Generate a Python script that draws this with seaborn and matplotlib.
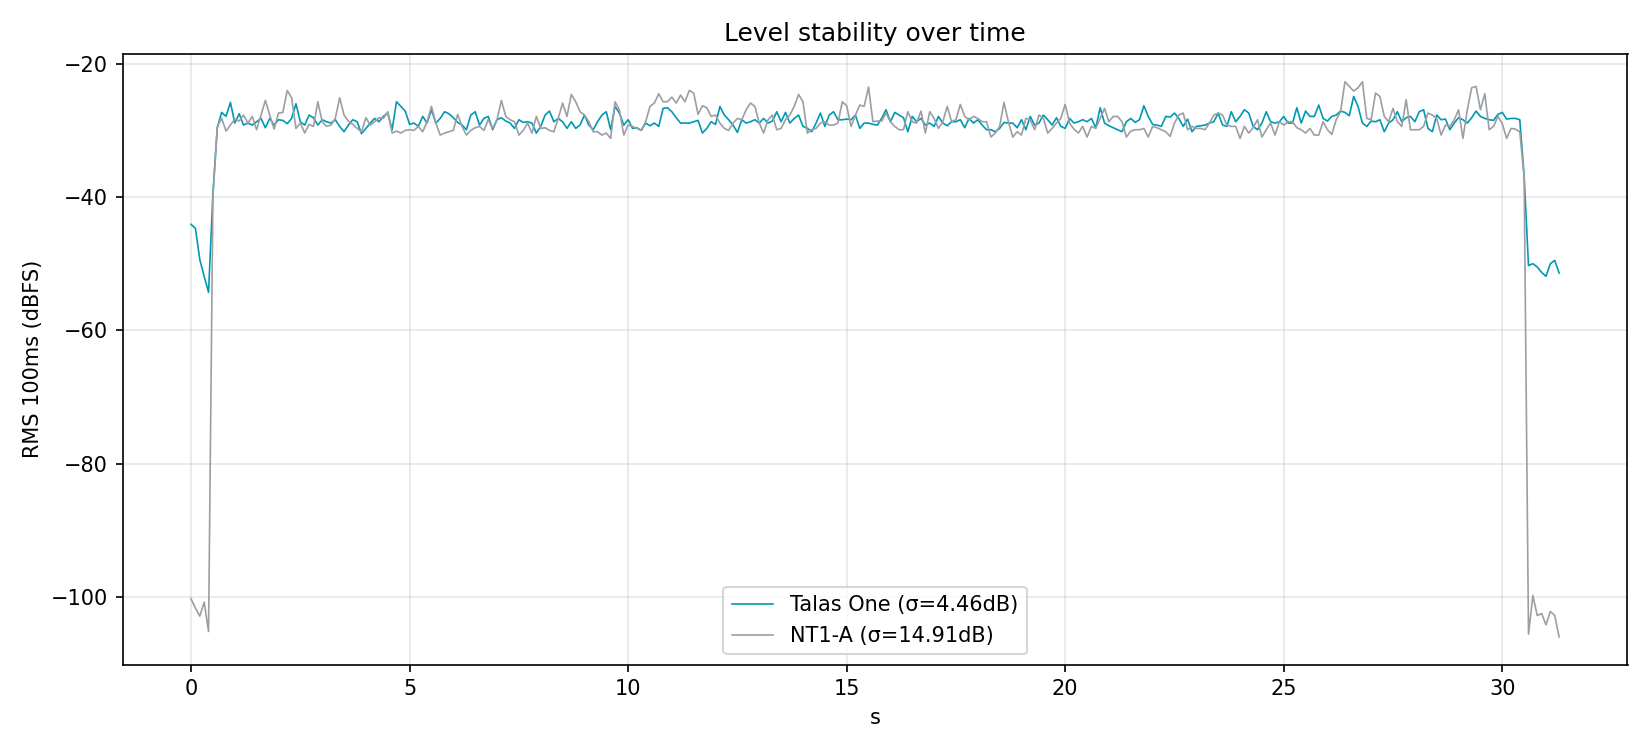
import numpy as np
import pandas as pd
import matplotlib
matplotlib.use("Agg")
import matplotlib.pyplot as plt
import seaborn as sns

hop_s = 0.1

talas_one = [
    -44.1, -44.7, -49.4, -51.9, -54.3, -39.5, -29.6, -27.3, -27.9, -25.8,
    -28.9, -27.5, -29.2, -28.9, -29.2, -28.7, -28.2, -29.6, -28.2, -29.2,
    -28.4, -28.5, -29.0, -28.2, -26.0, -28.7, -29.2, -27.7, -28.1, -29.2,
    -28.4, -28.7, -28.9, -28.4, -29.4, -30.2, -29.2, -28.4, -28.7, -30.5,
    -29.7, -28.9, -28.2, -28.7, -27.9, -27.4, -29.9, -25.7, -26.4, -27.1,
    -29.1, -28.9, -29.4, -27.9, -28.9, -26.9, -28.9, -28.2, -27.2, -27.5,
    -28.1, -28.8, -29.2, -29.9, -27.7, -27.2, -29.2, -28.2, -27.9, -29.9,
    -28.4, -28.1, -28.6, -28.9, -29.7, -28.4, -28.8, -28.7, -28.9, -30.4,
    -29.4, -27.7, -27.1, -28.7, -28.2, -28.7, -29.7, -28.7, -29.7, -29.2,
    -27.7, -29.2, -29.9, -28.7, -27.7, -27.2, -29.9, -26.4, -27.4, -29.2,
    -28.4, -29.7, -29.6, -30.0, -28.9, -29.3, -28.9, -29.4, -26.7, -26.6,
    -27.2, -28.1, -28.9, -28.9, -28.9, -28.7, -28.5, -30.4, -29.7, -28.7,
    -29.1, -26.4, -27.7, -28.4, -29.2, -30.3, -28.4, -28.9, -28.7, -28.4,
    -28.9, -28.2, -28.9, -28.6, -27.2, -28.7, -27.3, -28.9, -28.2, -27.7,
    -29.4, -29.7, -30.2, -28.9, -27.4, -29.4, -27.7, -27.2, -28.4, -28.4,
    -28.3, -28.4, -27.7, -29.7, -28.9, -28.9, -29.1, -29.2, -28.2, -26.9,
    -28.7, -27.3, -27.7, -28.1, -30.2, -27.9, -28.7, -28.2, -29.2, -28.9,
    -29.4, -27.9, -28.9, -29.3, -28.7, -28.7, -28.4, -29.6, -28.2, -28.9,
    -28.4, -29.2, -29.9, -29.9, -30.2, -29.7, -28.8, -28.9, -28.9, -29.6,
    -28.4, -29.9, -27.9, -29.2, -28.9, -27.7, -28.4, -29.2, -28.1, -29.4,
    -29.7, -28.2, -28.9, -28.7, -28.4, -28.7, -28.2, -29.6, -26.6, -28.9,
    -29.3, -29.6, -29.9, -30.2, -28.7, -28.2, -28.8, -28.4, -26.3, -27.9,
    -29.1, -29.2, -29.4, -27.9, -28.0, -27.4, -28.2, -29.4, -28.3, -30.2,
    -29.4, -29.3, -29.2, -28.9, -28.7, -27.4, -29.2, -29.4, -27.2, -28.7,
    -27.9, -26.9, -27.4, -29.4, -29.9, -28.9, -27.2, -28.7, -28.9, -28.7,
    -27.9, -28.9, -28.9, -26.6, -28.9, -27.1, -27.9, -27.9, -26.2, -28.2,
    -28.6, -27.9, -27.7, -27.1, -27.3, -27.8, -24.9, -26.4, -28.9, -29.4,
    -28.6, -28.7, -28.4, -30.2, -28.9, -28.4, -27.2, -28.7, -28.1, -27.9,
    -28.7, -27.2, -26.9, -29.7, -30.2, -27.7, -28.4, -28.3, -29.9, -28.9,
    -28.1, -28.4, -28.9, -28.1, -27.1, -27.9, -28.2, -28.4, -28.5, -27.6,
    -27.3, -28.3, -28.2, -28.2, -28.4, -36.8, -50.3, -50.0, -50.5, -51.3,
    -51.9, -50.0, -49.5, -51.4,
]

nt1_a = [
    -100.3, -101.7, -102.9, -100.8, -105.2, -40.0, -29.4, -28.2, -30.1, -29.2,
    -28.3, -28.6, -27.7, -28.9, -27.9, -29.9, -27.7, -25.5, -27.7, -29.8,
    -27.4, -27.3, -24.0, -25.1, -29.7, -28.9, -30.4, -29.1, -29.4, -25.7,
    -28.7, -29.4, -29.2, -28.2, -25.1, -27.7, -28.6, -29.1, -29.7, -30.2,
    -28.1, -29.2, -28.7, -28.1, -28.2, -27.2, -30.4, -30.1, -30.4, -30.0,
    -29.9, -30.0, -29.4, -30.2, -28.7, -26.4, -28.9, -30.7, -30.4, -30.2,
    -30.0, -27.6, -29.4, -30.7, -30.0, -29.6, -29.4, -30.0, -28.4, -29.7,
    -28.4, -25.5, -27.9, -28.4, -28.7, -30.7, -30.0, -28.9, -30.4, -27.9,
    -29.7, -29.6, -30.0, -30.2, -28.2, -25.9, -27.9, -24.6, -25.7, -27.2,
    -27.7, -28.7, -30.2, -30.2, -30.7, -30.4, -31.2, -25.7, -26.9, -30.7,
    -29.2, -29.4, -29.7, -30.0, -28.7, -26.4, -25.9, -24.5, -25.7, -25.7,
    -25.0, -25.9, -24.7, -25.7, -24.0, -24.4, -27.6, -26.3, -26.6, -27.9,
    -27.7, -28.9, -29.7, -30.0, -28.9, -28.2, -28.4, -26.9, -25.9, -26.4,
    -28.9, -30.4, -28.4, -27.7, -29.9, -29.7, -28.4, -27.7, -26.4, -24.6,
    -25.7, -30.4, -29.9, -29.7, -28.9, -28.7, -29.2, -29.2, -28.9, -25.7,
    -26.3, -29.4, -27.7, -26.2, -26.4, -23.5, -28.7, -28.6, -28.6, -27.4,
    -28.7, -29.4, -29.9, -29.9, -27.2, -28.7, -28.9, -27.1, -30.4, -27.2,
    -28.2, -29.7, -28.7, -26.4, -28.7, -28.4, -26.1, -27.9, -28.4, -27.9,
    -28.2, -28.7, -28.7, -31.0, -30.4, -29.4, -25.8, -28.7, -31.0, -30.2,
    -30.7, -28.2, -28.4, -29.9, -27.7, -28.2, -30.4, -29.7, -28.9, -28.2,
    -26.1, -28.9, -29.8, -30.4, -29.4, -31.0, -29.4, -29.7, -28.2, -26.7,
    -28.7, -27.9, -27.9, -28.7, -31.0, -30.1, -29.9, -29.9, -29.7, -31.0,
    -29.4, -29.6, -29.9, -30.2, -30.9, -28.9, -27.7, -27.4, -29.9, -29.4,
    -29.7, -29.7, -29.9, -28.9, -27.7, -27.4, -27.7, -29.2, -29.4, -29.4,
    -31.2, -29.4, -30.4, -29.6, -28.4, -31.0, -29.9, -28.9, -30.7, -28.7,
    -29.2, -28.7, -28.7, -29.6, -29.9, -30.4, -29.7, -30.7, -30.7, -28.7,
    -29.9, -30.6, -28.4, -27.2, -22.7, -23.4, -24.1, -23.6, -22.7, -28.2,
    -28.4, -24.4, -24.9, -27.9, -28.7, -26.7, -28.7, -29.4, -25.4, -29.9,
    -29.9, -29.9, -29.4, -27.4, -27.7, -28.2, -30.7, -29.2, -29.4, -28.4,
    -26.9, -31.2, -26.9, -23.6, -23.4, -26.9, -24.5, -29.9, -29.4, -27.9,
    -29.0, -31.2, -29.7, -29.8, -30.2, -37.0, -105.6, -99.8, -102.8, -102.5,
    -104.2, -102.2, -102.8, -106.0,
]

series_names = ["Talas One", "NT1-A"]
series_labels = ["Talas One (σ=4.46dB)", "NT1-A (σ=14.91dB)"]
series_colors = ["#0099b3", "#9c9ea4"]

t = np.arange(len(talas_one)) * hop_s
df = pd.DataFrame({"t": t, "Talas One": talas_one, "NT1-A": nt1_a})

fig, ax = plt.subplots(figsize=(11, 5), dpi=150)
for name, lab, col in zip(series_names, series_labels, series_colors):
    sns.lineplot(data=df, x="t", y=name, ax=ax, color=col, linewidth=0.8,
                 estimator=None, label=lab)

ax.grid(True, alpha=0.3)
ax.set_xlabel("s")
ax.set_ylabel("RMS 100ms (dBFS)")
ax.set_title("Level stability over time")
ax.legend(loc="lower center")
fig.tight_layout()
fig.savefig("out.png", dpi=150)
